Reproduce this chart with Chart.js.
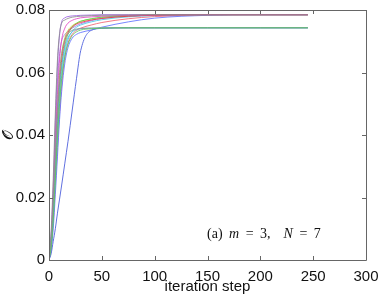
<!DOCTYPE html>
<html>
<head>
<meta charset="utf-8">
<script src="https://cdn.jsdelivr.net/npm/chart.js@4.4.1/dist/chart.umd.min.js"></script>
<style>
    body { margin: 0; background: #fff; }
    #box { position: relative; width: 382px; height: 296px; }
    #note {
        position: absolute; left: 207px; top: 226px;
        font-family: "Liberation Serif", "DejaVu Serif", serif; font-size: 14px; color: #111;
        white-space: nowrap; word-spacing: 3px;
    }
</style>
</head>
<body>
<div id="box">
    <canvas id="chart"></canvas>
    <div id="note">(a) <i>m</i> = 3,&nbsp; <i>N</i> = 7</div>
</div>
<script>
// iteration steps where each curve is sampled
const STEPS = [0, 2, 4, 6, 8, 10, 12, 15, 18, 22, 26, 30, 40, 50, 75, 100, 150, 200, 245];

// upper group (saturates near 0.0785)
const PURPLE_FAST = [0, 0.008, 0.023, 0.044, 0.062, 0.072, 0.0762, 0.0775, 0.0779, 0.0781, 0.0782, 0.0783, 0.0784, 0.0785, 0.0785, 0.0785, 0.0785, 0.0785, 0.0785];
const GREY_FAST = [0, 0.009, 0.026, 0.047, 0.064, 0.0725, 0.0758, 0.0768, 0.0773, 0.0777, 0.0779, 0.078, 0.0782, 0.0783, 0.0784, 0.0785, 0.0785, 0.0785, 0.0785];
const MAGENTA = [0, 0.006, 0.019, 0.037, 0.053, 0.064, 0.0705, 0.0742, 0.0758, 0.0767, 0.0772, 0.0775, 0.0778, 0.078, 0.0783, 0.0784, 0.0785, 0.0785, 0.0785];
const RED = [0, 0.005, 0.016, 0.031, 0.045, 0.056, 0.064, 0.0702, 0.0729, 0.0746, 0.0755, 0.076, 0.0768, 0.0773, 0.078, 0.0783, 0.0785, 0.0785, 0.0785];
const GREEN = [0, 0.005, 0.015, 0.029, 0.043, 0.054, 0.062, 0.0688, 0.0722, 0.0745, 0.0757, 0.0764, 0.0772, 0.0777, 0.0782, 0.0784, 0.0785, 0.0785, 0.0785];
const CYAN = [0, 0.004, 0.013, 0.026, 0.039, 0.05, 0.059, 0.0665, 0.0705, 0.0732, 0.0745, 0.0752, 0.0762, 0.0769, 0.0778, 0.0782, 0.0785, 0.0785, 0.0785];
const YELLOW = [0, 0.005, 0.017, 0.033, 0.048, 0.059, 0.066, 0.0712, 0.0735, 0.075, 0.0758, 0.0764, 0.0771, 0.0776, 0.0781, 0.0784, 0.0785, 0.0785, 0.0785];
const BLUE_UP = [0, 0.003, 0.01, 0.021, 0.033, 0.045, 0.054, 0.063, 0.068, 0.071, 0.0722, 0.0728, 0.0736, 0.0745, 0.0762, 0.0774, 0.0783, 0.0785, 0.0785];
const RED_SLOW = [0, 0.004, 0.012, 0.024, 0.036, 0.047, 0.056, 0.065, 0.0695, 0.0722, 0.0735, 0.0742, 0.0752, 0.076, 0.0772, 0.0779, 0.0784, 0.0785, 0.0785];
const PURPLE_MID = [0, 0.007, 0.021, 0.04, 0.057, 0.066, 0.0702, 0.0722, 0.0732, 0.0742, 0.075, 0.0756, 0.0766, 0.0773, 0.0781, 0.0784, 0.0785, 0.0785, 0.0785];

// lower group (saturates near 0.0743)
const GREEN_LOW = [0, 0.004, 0.013, 0.026, 0.039, 0.05, 0.058, 0.065, 0.069, 0.0718, 0.073, 0.0736, 0.074, 0.0742, 0.0743, 0.0743, 0.0743, 0.0743, 0.0743];
const GREY_LOW = [0, 0.006, 0.018, 0.034, 0.049, 0.06, 0.066, 0.0705, 0.0724, 0.0735, 0.0739, 0.0741, 0.0742, 0.0743, 0.0743, 0.0743, 0.0743, 0.0743, 0.0743];
const CYAN_LOW = [0, 0.005, 0.015, 0.03, 0.044, 0.055, 0.062, 0.068, 0.0712, 0.073, 0.0737, 0.074, 0.0742, 0.0743, 0.0743, 0.0743, 0.0743, 0.0743, 0.0743];
const BLUE_LOW = [0, 0.002, 0.006, 0.01, 0.015, 0.0195, 0.024, 0.031, 0.038, 0.048, 0.058, 0.067, 0.0735, 0.0741, 0.0743, 0.0743, 0.0743, 0.0743, 0.0743];

const SERIES = [GREEN_LOW, GREY_LOW, CYAN_LOW, BLUE_LOW, GREY_FAST, MAGENTA, RED, GREEN, CYAN, YELLOW, BLUE_UP, RED_SLOW, PURPLE_MID, PURPLE_FAST];
const COLORS = ['#5cc85cd0', '#909090d0', '#50b8e0d0', '#6070e0ff', '#8a8a8ad0', '#e040c0d0', '#ee2a40d0', '#4cd44cd0', '#3ec8e6d0', '#b8dc3cd0', '#5a6cffd0', '#f05a6ad0', '#a070e0d0', '#9a5fe0d0'];

const X_TICKS = [0, 50, 100, 150, 200, 250, 300];
const Y_TICKS = [0, 0.02, 0.04, 0.06, 0.08];

const FONT = { family: '"Liberation Sans", Arial, sans-serif', size: 15 };

// marco completo con marcas hacia adentro, estilo matlab
const framePlugin = {
    id: 'frame',
    afterDraw(chart) {
        const ctx = chart.ctx;
        const a = chart.chartArea;
        const xs = chart.scales.x;
        const ys = chart.scales.y;
        ctx.save();
        ctx.strokeStyle = '#666';
        ctx.lineWidth = 1;
        ctx.beginPath();
        ctx.rect(Math.round(a.left) + 0.5, Math.round(a.top) + 0.5, Math.round(a.right - a.left), Math.round(a.bottom - a.top));
        xs.ticks.forEach(t => {
            const px = Math.round(xs.getPixelForValue(t.value)) + 0.5;
            ctx.moveTo(px, a.bottom); ctx.lineTo(px, a.bottom - 4);
            ctx.moveTo(px, a.top); ctx.lineTo(px, a.top + 4);
        });
        ys.ticks.forEach(t => {
            const py = Math.round(ys.getPixelForValue(t.value)) + 0.5;
            ctx.moveTo(a.left, py); ctx.lineTo(a.left + 4, py);
            ctx.moveTo(a.right, py); ctx.lineTo(a.right - 4, py);
        });
        ctx.stroke();
        ctx.restore();
    }
};

function buildDatasets() {
    return SERIES.map((values, i) => ({
        data: values.map((v, j) => ({ x: STEPS[j], y: v })),
        borderColor: COLORS[i],
        borderWidth: 1,
        pointRadius: 0,
        cubicInterpolationMode: 'monotone',
        fill: false
    }));
}

new Chart(document.getElementById('chart').getContext('2d'), {
    type: 'line',
    data: { datasets: buildDatasets() },
    options: {
        responsive: true,
        maintainAspectRatio: false,
        animation: false,
        layout: { padding: { top: 10, right: 16, left: 0, bottom: 0 } },
        plugins: { legend: { display: false }, tooltip: { enabled: false } },
        scales: {
            x: {
                type: 'linear', min: 0, max: 300,
                afterBuildTicks: s => { s.ticks = X_TICKS.map(v => ({ value: v })); },
                afterFit: s => { s.height = 36; s.paddingLeft = 0; s.paddingRight = 0; },
                grid: { display: false, drawTicks: false },
                border: { display: false },
                ticks: { font: FONT, color: '#111', padding: 8, maxRotation: 0 },
                title: { display: true, text: 'iteration step', font: FONT, color: '#111', padding: 0 }
            },
            y: {
                type: 'linear', min: 0, max: 0.08,
                afterBuildTicks: s => { s.ticks = Y_TICKS.map(v => ({ value: v })); },
                afterFit: s => { s.width = 49; s.paddingTop = 0; s.paddingBottom = 0; },
                grid: { display: false, drawTicks: false },
                border: { display: false },
                ticks: { font: FONT, color: '#111', padding: 4, callback: v => String(v) },
                title: { display: true, text: '𝒪', font: FONT, color: '#111', padding: 0 }
            }
        }
    },
    plugins: [framePlugin]
});
</script>
</body>
</html>
